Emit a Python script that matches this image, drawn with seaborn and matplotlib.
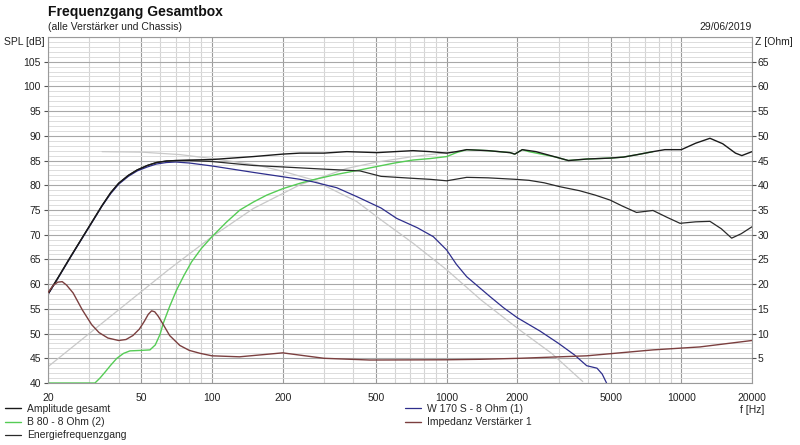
import numpy as np
import pandas as pd
import matplotlib
matplotlib.use('Agg')
import matplotlib.pyplot as plt
from matplotlib.ticker import FixedLocator, NullFormatter
import seaborn as sns

amp_f = [20, 22, 25, 28, 31, 34, 37, 40, 44, 48, 53, 58, 64, 70, 80,
         100, 150, 200, 237, 300, 375, 505, 718, 850, 1000, 1100, 1217, 1500, 1862, 1950,
         2100, 2400, 2920, 3300, 3950, 5000, 5670, 6500, 7570, 8500, 10000, 11500, 13240,
         15000, 17000, 18100, 20000]
amp_db = [58.0, 61.2, 65.6, 69.4, 72.8, 75.9, 78.5, 80.4, 82.0, 83.1, 84.0, 84.6, 84.9,
          85.0, 85.1, 85.2, 85.8, 86.3, 86.5, 86.5, 86.8, 86.6, 87.0, 86.8, 86.5, 86.8, 87.2,
          87.0, 86.6, 86.3, 87.2, 86.8, 85.7, 85.0, 85.3, 85.5, 85.7, 86.2, 86.8, 87.2, 87.2,
          88.5, 89.5, 88.4, 86.5, 86.0, 86.8]

woofer_f = [20, 22, 25, 28, 31, 34, 37, 40, 44, 48, 53, 58, 64, 70,
            80, 100, 150, 195, 237, 269, 340, 414, 525, 612, 750, 877, 1000, 1100, 1217,
            1528, 1750, 2000, 2500, 3000, 3500, 3950, 4370, 4600, 4800]
woofer_db = [57.9, 61.1, 65.5, 69.3, 72.7, 75.8, 78.3, 80.2, 81.8, 82.9, 83.7, 84.3, 84.6,
             84.7, 84.5, 83.9, 82.6, 81.8, 81.2, 80.7, 79.5, 77.7, 75.4, 73.3, 71.4,
             69.6, 66.9, 64.0, 61.5, 57.5, 55.2, 53.2, 50.5, 48.0, 45.7, 43.5, 43.0, 41.8,
             40.0]

tweeter_f = [20, 31.7, 33.3, 35, 37, 39.3, 42, 44.7, 50, 54.4, 57.3, 60, 62, 66, 70.6,
             76, 81.8, 90, 100, 115, 131.5, 150, 171, 200, 237, 269, 340, 427, 505, 600,
             718, 850, 1000, 1100, 1217, 1500, 1862, 1950, 2100, 2240, 2920, 3300, 3950,
             5000, 5670, 6500, 7570]
tweeter_db = [40, 40, 41, 42.2, 43.6, 45.0, 46.0, 46.5, 46.6, 46.7, 47.7, 49.8, 52.1, 55.5,
              58.8, 61.8, 64.5, 67.2, 69.6, 72.5, 75.0, 76.6, 78.0, 79.3, 80.4, 81.1, 82.2,
              83.1, 83.8, 84.5, 85.1, 85.4, 85.8, 86.6, 87.2, 87.0, 86.6, 86.3, 87.2, 86.8,
              85.7, 85.0, 85.3, 85.5, 85.7, 86.2, 86.8]

energy_f = [20, 22, 25, 28, 31, 34, 37, 40, 44, 48, 53, 58, 64, 70,
            80, 100, 150, 201, 288, 427, 525, 718, 850, 1000, 1217, 1500, 1960, 2240, 2600,
            3040, 3680, 4300, 4970, 5600, 6440, 7570, 8700, 9870, 11500, 13240, 14800,
            16380, 18000, 20000]
energy_db = [58.0, 61.2, 65.6, 69.4, 72.8, 75.9, 78.5, 80.4, 82.0, 83.1, 84.0, 84.6, 84.9,
             85.0, 85.0, 84.8, 84.0, 83.7, 83.3, 82.9, 81.8, 81.4, 81.2, 80.9, 81.6,
             81.5, 81.2, 81.0, 80.5, 79.7, 78.9, 78.0, 77.0, 75.8, 74.5, 74.9, 73.5, 72.3,
             72.6, 72.7, 71.2, 69.3, 70.2, 71.6]

imp_f = [20, 21, 22, 23, 24, 25.6, 28, 30.7, 33, 36, 40, 43, 46, 49, 51.5, 53.5, 55.3,
         57, 59, 62, 66, 72.9, 80, 89, 100, 131, 200, 300, 470, 1000, 1400, 2050, 3950,
         7570, 12000, 20000]
imp_ohm = [18.3, 19.7, 20.4, 20.5, 19.8, 18.2, 14.8, 11.8, 10.2, 9.1, 8.6, 8.8, 9.6, 10.9,
           12.5, 13.9, 14.6, 14.4, 13.5, 11.8, 9.6, 7.6, 6.6, 6.0, 5.5, 5.3, 6.1, 5.0, 4.65,
           4.7, 4.8, 5.0, 5.5, 6.7, 7.3, 8.6]

# hellgraue Zielkurven (Tiefpass / Hochpass)
lp_f = [34, 50, 73, 100, 155, 201, 269, 288, 414, 525, 718, 1000, 1400, 2050, 2800, 3800]
lp_db = [86.8, 86.7, 86.2, 85.4, 84.1, 82.8, 81.1, 80.4, 76.7, 73.0, 68.3, 62.9, 56.8, 50.7,
         46.0, 40.3]
hp_f = [20, 65.2, 100, 150, 237, 375, 505, 718, 1000]
hp_db = [43.3, 62.9, 69.6, 75.3, 80.1, 83.4, 84.7, 85.8, 86.6]

x_major = [20, 50, 100, 200, 500, 1000, 2000, 5000, 10000, 20000]

sns.set_style('white')
plt.rcParams['font.family'] = ['Liberation Sans', 'DejaVu Sans']

fig = plt.figure(figsize=(8, 4.45), dpi=100)
ax = fig.add_axes([0.06, 0.1393, 0.88, 0.7777])
ax.set_xscale('log')

# Gitter
minor = []
for dec in [10, 100, 1000, 10000]:
    for m in range(1, 10):
        v = m * dec
        if 20 <= v <= 20000 and v not in x_major:
            minor.append(v)
for v in minor:
    ax.axvline(v, color='#d4d4d4', lw=0.8, zorder=0)
for v in x_major:
    ax.axvline(v, color='#9a9a9a', lw=0.8, zorder=0)
for v in range(40, 111):
    if v % 5 == 0:
        ax.axhline(v, color='#a8a8a8', lw=0.8, zorder=0)
    else:
        ax.axhline(v, color='#dcdcdc', lw=0.7, zorder=0)

grey = '#c8c8c8'
kw = dict(ax=ax, solid_joinstyle='round')
sns.lineplot(x=lp_f, y=lp_db, color=grey, lw=0.9, **kw)
sns.lineplot(x=hp_f, y=hp_db, color=grey, lw=0.9, **kw)
sns.lineplot(x=tweeter_f, y=tweeter_db, color='#55cc55', lw=1.0, label='B 80 - 8 Ohm (2)', **kw)
sns.lineplot(x=woofer_f, y=woofer_db, color='#2e2e8c', lw=0.9, label='W 170 S - 8 Ohm (1)', **kw)
sns.lineplot(x=energy_f, y=energy_db, color='#2a2a2a', lw=0.9, label='Energiefrequenzgang', **kw)
sns.lineplot(x=amp_f, y=amp_db, color='#1a1a1a', lw=1.0, label='Amplitude gesamt', **kw)

ax.set_xlim(20, 20000)
ax.set_ylim(40, 110)
ax.xaxis.set_major_locator(FixedLocator(x_major))
ax.set_xticklabels([str(v) for v in x_major])
ax.xaxis.set_minor_locator(FixedLocator(minor))
ax.xaxis.set_minor_formatter(NullFormatter())
ax.set_yticks(range(40, 110, 5))
ax.tick_params(axis='both', which='major', labelsize=7.5, length=3, width=0.8,
               color='#555555', labelcolor='#222222', pad=2)
ax.tick_params(axis='x', which='minor', length=0)
ax.tick_params(axis='x', pad=4)
for s in ax.spines.values():
    s.set_color('#9a9a9a')
    s.set_linewidth(0.8)
ax.set_xlabel('')
ax.set_ylabel('')

ax2 = ax.twinx()
sns.lineplot(x=imp_f, y=imp_ohm, ax=ax2, color='#7b3f3f', lw=1.0, solid_joinstyle='round',
             label='Impedanz Verstärker 1')
ax2.set_ylim(0, 70)
ax2.set_yticks(range(5, 70, 5))
ax2.tick_params(axis='y', labelsize=7.5, length=3, width=0.8, color='#555555',
                labelcolor='#222222', pad=1)
ax2.set_ylabel('')
for s in ax2.spines.values():
    s.set_visible(False)

h1, l1 = ax.get_legend_handles_labels()
h2, l2 = ax2.get_legend_handles_labels()
ax.get_legend().remove()
ax2.get_legend().remove()
hd = dict(zip(l1 + l2, h1 + h2))

leg_kw = dict(frameon=False, fontsize=7.5, handlelength=1.6, handletextpad=0.5,
              labelspacing=0.3, borderpad=0, borderaxespad=0, loc='upper left')
fig.legend([hd['Amplitude gesamt'], hd['B 80 - 8 Ohm (2)'], hd['Energiefrequenzgang']],
           ['Amplitude gesamt', 'B 80 - 8 Ohm (2)', 'Energiefrequenzgang'],
           bbox_to_anchor=(0.006, 0.092), **leg_kw)
fig.legend([hd['W 170 S - 8 Ohm (1)'], hd['Impedanz Verstärker 1']],
           ['W 170 S - 8 Ohm (1)', 'Impedanz Verstärker 1'],
           bbox_to_anchor=(0.506, 0.092), **leg_kw)

# Beschriftungen
fig.text(0.06, 0.973, 'Frequenzgang Gesamtbox', fontsize=10, fontweight='bold',
         ha='left', va='center', color='#111111')
fig.text(0.06, 0.94, '(alle Verstärker und Chassis)', fontsize=7.5, ha='left', va='center',
         color='#222222')
fig.text(0.94, 0.94, '29/06/2019', fontsize=7.5, ha='right', va='center', color='#222222')
fig.text(0.056, 0.905, 'SPL [dB]', fontsize=7.5, ha='right', va='center', color='#222222')
fig.text(0.944, 0.905, 'Z [Ohm]', fontsize=7.5, ha='left', va='center', color='#222222')
fig.text(0.94, 0.078, 'f [Hz]', fontsize=7.5, ha='center', va='center', color='#222222')

fig.savefig('out.png', dpi=100)
